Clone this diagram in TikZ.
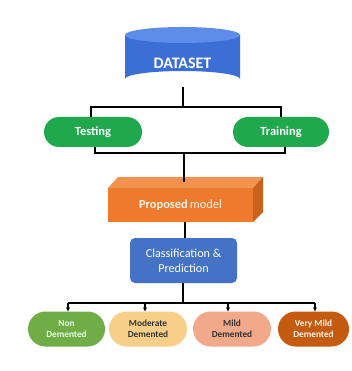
\documentclass[tikz,border=0pt]{standalone}
\usepackage{fontspec}
\setmainfont{Carlito}
\usetikzlibrary{arrows.meta,shapes.misc}
\definecolor{dsblue}{HTML}{3C6FD6}
\definecolor{dstop}{HTML}{5D8DE8}
\definecolor{tgreen}{HTML}{1FA84C}
\definecolor{porange}{HTML}{EE7A2E}
\definecolor{ptop}{HTML}{F3934F}
\definecolor{pside}{HTML}{C9621C}
\definecolor{cblue}{HTML}{4472C4}
\definecolor{ngreen}{HTML}{70AD47}
\definecolor{myellow}{HTML}{F8CF88}
\definecolor{msalmon}{HTML}{F2A98A}
\definecolor{vbrown}{HTML}{C55A11}
\tikzset{
  conn/.style={line width=1.4pt, black},
  arr/.style={line width=1.4pt, black, -{Stealth[length=4pt,width=4pt]}},
  pill/.style={rounded rectangle, draw=none, align=center, inner sep=1pt},
  smalltxt/.style={font=\bfseries\fontsize{9.3}{11}\selectfont},
}
\begin{document}
\begin{tikzpicture}[x=1pt,y=-1pt]
\useasboundingbox[fill=white] (0,0) rectangle (351,371);
% dataset cylinder
\fill[dsblue] (125,35) -- (125,79) arc[start angle=180,end angle=360,x radius=57.5,y radius=8] -- (240,35) -- cycle;
\fill[dstop] (182.5,35) ellipse[x radius=57.5,y radius=8];
\node[font=\bfseries\fontsize{16}{18}\selectfont, text=white] (dataset) at (182.5,63) {DATASET};
\coordinate (dsb) at (183,87);
% testing / training
\node[pill, fill=tgreen, minimum width=100pt, minimum height=30pt, text=white, font=\bfseries\fontsize{12.5}{14}\selectfont] (test) at (93,132) {Testing};
\node[pill, fill=tgreen, minimum width=98pt, minimum height=30pt, text=white, font=\bfseries\fontsize{12.5}{14}\selectfont] (train) at (281,132) {Training};
\coordinate (top1) at (183,107);
\draw[conn] (dsb) -- (top1);
\draw[conn] (test.north -| 91,0) |- (top1) -| (train.north -| 281,0);
\coordinate (bot1) at (184,153);
\draw[conn] (test.south -| 95,0) |- (bot1) -| (train.south -| 285,0);
% proposed model cuboid
\fill[ptop] (108,188) -- (118,177) -- (263,177) -- (253,188) -- cycle;
\fill[pside] (253,188) -- (263,177) -- (263,212) -- (253,222) -- cycle;
\fill[porange] (108,188) rectangle (253,222);
\node[text=white!92!orange, font=\fontsize{12.4}{14}\selectfont] (prop) at (180.5,205) {\textbf{Proposed}\,model};
\coordinate (proptop) at (184,182);
\draw[conn] (bot1) -- (proptop);
% classification
\node[rounded corners=5pt, fill=cblue, minimum width=107pt, minimum height=45pt, text=white, align=center, font=\fontsize{12.2}{15}\selectfont] (cls) at (183.5,260.5) {Classification \&\\Prediction};
\draw[conn] (185,222) -- (cls.north -| 185,0);
% bottom
\coordinate (hub) at (183,303);
\draw[conn] (cls.south -| hub) -- (hub);
\node[pill, smalltxt, fill=ngreen, minimum width=79pt, minimum height=35pt, text=white!90!green] (non) at (66.5,329) {Non\\Demented};
\node[pill, smalltxt, fill=myellow, minimum width=80pt, minimum height=35pt, text=black!80] (mod) at (148,329) {Moderate\\Demented};
\node[pill, smalltxt, fill=msalmon, minimum width=80pt, minimum height=35pt, text=black!80] (mild) at (232,329) {Mild\\Demented};
\node[pill, smalltxt, fill=vbrown, minimum width=73pt, minimum height=35pt, text=white!92!orange] (vm) at (313.5,329) {Very Mild\\Demented};
\draw[conn] (68,303) -- (315,303);
\draw[arr] (68,303) -- (non.north -| 68,0);
\draw[arr] (145,303) -- (mod.north -| 145,0);
\draw[arr] (228,303) -- (mild.north -| 228,0);
\draw[arr] (315,303) -- (vm.north -| 315,0);
\end{tikzpicture}
\end{document}
